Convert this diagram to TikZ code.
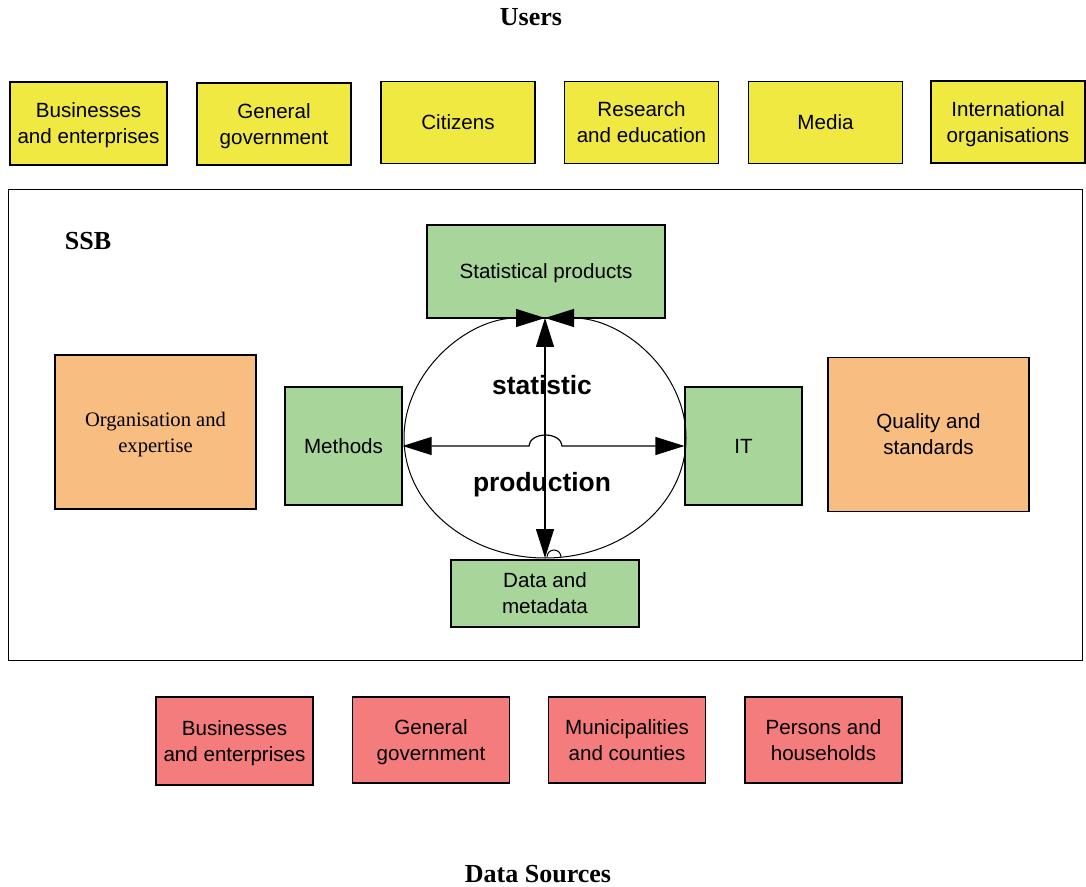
\documentclass[tikz,border=0pt]{standalone}
\usepackage{fontspec}
\setmainfont{Liberation Serif}
\setsansfont{Liberation Sans}
\usetikzlibrary{arrows.meta}

\definecolor{userYellow}{RGB}{240,233,66}
\definecolor{coreGreen}{RGB}{168,213,154}
\definecolor{supOrange}{RGB}{248,189,128}
\definecolor{srcRed}{RGB}{244,124,124}

\begin{document}
\begin{tikzpicture}[x=0.5pt, y=-0.5pt, >={Triangle[length=14.5pt,width=9pt]},
	box/.style={draw, line width=0.6pt, align=center, inner sep=0pt, text depth=0pt,
		font=\sffamily\fontsize{10.3}{13}\selectfont},
	user/.style={box, fill=userYellow, minimum width=77pt, minimum height=41pt},
	source/.style={box, fill=srcRed, minimum width=78.5pt, minimum height=44pt},
	core/.style={box, fill=coreGreen},
	support/.style={box, fill=supOrange, minimum width=100.5pt, minimum height=77pt,
		font=\fontsize{10.3}{13}\selectfont},
	title/.style={font=\bfseries\fontsize{13}{15}\selectfont},
	flow/.style={font=\sffamily\bfseries\fontsize{13.2}{16}\selectfont}]
	
	\useasboundingbox (0,0) rectangle (1086,887);
	
	%========================
	% Users
	%========================
	\node[title] (users) at (531,17) {Users};
	\node[user, minimum width=78.5pt, minimum height=41.5pt] (u1) at (88.5,123.5) {Businesses\\and enterprises};
	\node[user] (u2) at (274,124) {General\\government};
	\node[user] (u3) at (458,122.5) {Citizens};
	\node[user] (u4) at (641.5,122.5) {Research\\and education};
	\node[user] (u5) at (825.5,122.5) {Media};
	\node[user] (u6) at (1008,122) {International\\organisations};
	
	%========================
	% SSB
	%========================
	\node[draw, line width=0.5pt, minimum width=537pt, minimum height=235pt, inner sep=0pt] (ssb) at (545,425) {};
	\node[title] (ssblabel) at (88,241) {SSB};
	
	\node[core, minimum width=119pt, minimum height=46.5pt] (prod) at (546,271.5) {Statistical products};
	\node[core, minimum width=58.5pt, minimum height=59pt] (meth) at (343.5,446) {Methods};
	\node[core, minimum width=58.5pt, minimum height=59pt] (it) at (743.5,446) {IT};
	\node[core, minimum width=94pt, minimum height=33.5pt] (data) at (545,593.5) {Data and\\metadata};
	\node[support] (org) at (155.5,432) {Organisation and\\expertise};
	\node[support, font=\sffamily\fontsize{10.3}{13}\selectfont] (qual) at (928.5,434.5) {Quality and\\standards};
	
	% production cycle
	\coordinate (etop) at (545,318);
	\coordinate (ebot) at (545,558);
	\draw[line width=0.5pt, ->] (ebot) arc[start angle=90, end angle=270, x radius=141, y radius=120];
	\draw[line width=0.5pt, ->] (ebot) arc[start angle=90, end angle=-90, x radius=141, y radius=120];
	\draw[line width=0.5pt] (547,557) arc[start angle=180, end angle=360, radius=7];
	\node[flow] (stat) at (542,385) {statistic};
	\node[flow] (prodn) at (542,485) {production};
	
	\draw[line width=0.6pt, <->] (etop) -- (ebot);
	\draw[line width=0.6pt, <->] (meth.east) -- (529,446)
		arc[start angle=180, end angle=360, x radius=16.5, y radius=11] -- (it.west);
	
	%========================
	% Data sources
	%========================
	\node[source] (s1) at (234.5,741) {Businesses\\and enterprises};
	\node[source, minimum height=43pt] (s2) at (431,740) {General\\government};
	\node[source, minimum height=43pt] (s3) at (627,740) {Municipalities\\and counties};
	\node[source, minimum height=43pt] (s4) at (823.5,740) {Persons and\\households};
	\node[title] (dsrc) at (538,874) {Data Sources};
	
\end{tikzpicture}
\end{document}
